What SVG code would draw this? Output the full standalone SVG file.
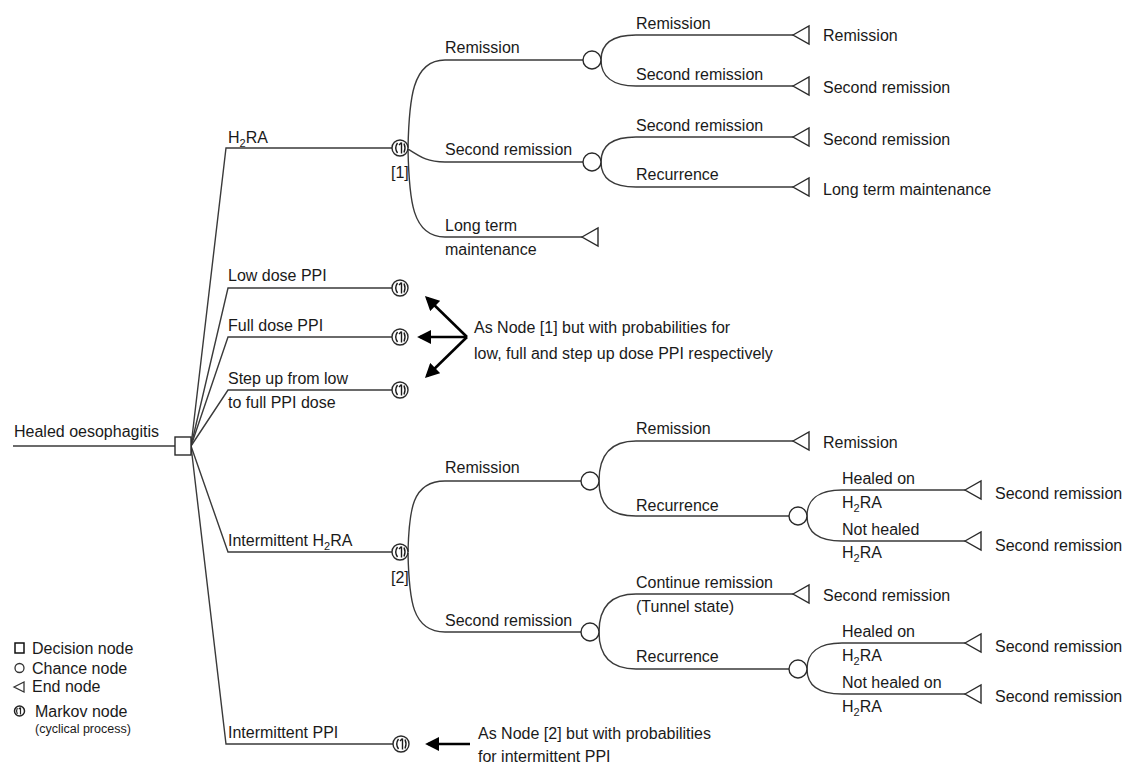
<svg xmlns="http://www.w3.org/2000/svg" width="1124" height="764" viewBox="0 0 1124 764">
  <defs>
    <style>
      text { font-family: "Liberation Sans", Arial, sans-serif; font-size: 16px; fill: #1a1a1a; }
      .sub { font-size: 11px; }
      .small { font-size: 12.5px; }
      .br { fill: none; stroke: #3a3a3a; stroke-width: 1.4; }
      .node { fill: #fff; stroke: #2a2a2a; stroke-width: 1.4; }
      .glyph { fill: none; stroke: #1a1a1a; stroke-width: 1.4; }
      .ptr { stroke: #000; stroke-width: 2.6; fill: none; marker-end: url(#head); }
    </style>
    <marker id="head" viewBox="0 0 10 10" refX="8" refY="5" markerWidth="5.5" markerHeight="5.5" orient="auto" markerUnits="strokeWidth">
      <path d="M0,0 L10,5 L0,10 z" fill="#000"/>
    </marker>
    <!-- Markov node: circle with a cycle mark inside -->
    <g id="markov">
      <circle r="8" class="node"/>
      <path class="glyph" d="M-2.5,-5 Q-6,0 -2.5,5 M1.5,-5.5 V5.5 M1.5,-5.5 L-1,-3 M4,-4.5 Q6,0 4,4.5"/>
    </g>
    <circle id="chance" r="9" class="node"/>
    <path id="end" class="node" d="M0,0 L16,-9 L16,9 Z"/>
  </defs>

  <rect width="1124" height="764" fill="#fff"/>

  <!-- connectors -->
  <g id="connectors">
    <!-- root and decision fan -->
    <path class="br" d="M13,446 H175"/>
    <path class="br" d="M191,446 L226,148 H392"/>
    <path class="br" d="M191,446 L228,288 H392"/>
    <path class="br" d="M191,446 L228,337 H392"/>
    <path class="br" d="M191,446 L228,390 H392"/>
    <path class="br" d="M191,446 L228,552 H392"/>
    <path class="br" d="M191,446 L226,744 H393"/>

    <!-- H2RA subtree -->
    <path class="br" d="M408,148 C409,100 412,60 445,60 H583"/>
    <path class="br" d="M408,149 C422,158 428,162 445,162 H583"/>
    <path class="br" d="M408,149 C409,200 412,237 445,237 H582"/>
    <path class="br" d="M601,60 C601,44 612,35 636,35 H793"/>
    <path class="br" d="M601,60 C601,76 612,86 636,86 H793"/>
    <path class="br" d="M601,162 C601,146 612,137 636,137 H793"/>
    <path class="br" d="M601,162 C601,178 612,187 636,187 H793"/>

    <!-- Intermittent H2RA subtree -->
    <path class="br" d="M408,552 C409,510 412,481 445,481 H581"/>
    <path class="br" d="M408,553 C409,600 412,632 445,632 H581"/>
    <path class="br" d="M599,481 C599,455 610,441 636,441 H793"/>
    <path class="br" d="M599,481 C599,505 610,516 636,516 H789"/>
    <path class="br" d="M807,516 C807,500 818,490 842,490 H965"/>
    <path class="br" d="M807,516 C807,532 818,541 842,541 H965"/>
    <path class="br" d="M599,632 C599,608 610,594 636,594 H793"/>
    <path class="br" d="M599,632 C599,656 610,669 636,669 H789"/>
    <path class="br" d="M807,669 C807,653 818,643 842,643 H965"/>
    <path class="br" d="M807,669 C807,685 818,694 842,694 H965"/>

    <!-- reference pointers -->
    <path class="ptr" d="M467,337 L427,298"/>
    <path class="ptr" d="M467,337 L420,337"/>
    <path class="ptr" d="M467,337 L427,376"/>
    <path class="ptr" d="M470,744 L428,744"/>
  </g>

  <!-- root -->
  <g id="root">
    <text x="14" y="437">Healed oesophagitis</text>
    <rect x="175" y="437" width="16" height="18" class="node"/>
  </g>

  <!-- strategy branches -->
  <g id="h2ra">
    <text x="228" y="143">H<tspan class="sub" dy="4">2</tspan><tspan dy="-4">RA</tspan></text>
    <use href="#markov" x="400" y="148"/>
    <text x="391" y="178">[1]</text>
  </g>
  <g id="low-dose-ppi">
    <text x="228" y="281">Low dose PPI</text>
    <use href="#markov" x="400" y="288"/>
  </g>
  <g id="full-dose-ppi">
    <text x="228" y="331">Full dose PPI</text>
    <use href="#markov" x="400" y="337"/>
  </g>
  <g id="step-up-ppi">
    <text x="228" y="384">Step up from low</text>
    <text x="228" y="408">to full PPI dose</text>
    <use href="#markov" x="400" y="390"/>
  </g>
  <g id="note-1">
    <text x="474" y="333">As Node [1] but with probabilities for</text>
    <text x="474" y="359">low, full and step up dose PPI respectively</text>
  </g>
  <g id="intermittent-h2ra">
    <text x="228" y="546">Intermittent H<tspan class="sub" dy="4">2</tspan><tspan dy="-4">RA</tspan></text>
    <use href="#markov" x="400" y="552"/>
    <text x="391" y="583">[2]</text>
  </g>
  <g id="intermittent-ppi">
    <text x="228" y="738">Intermittent PPI</text>
    <use href="#markov" x="401" y="744"/>
  </g>
  <g id="note-2">
    <text x="478" y="739">As Node [2] but with probabilities</text>
    <text x="478" y="762">for intermittent PPI</text>
  </g>

  <!-- H2RA subtree nodes -->
  <g id="h2ra-remission">
    <text x="445" y="53">Remission</text>
    <use href="#chance" x="592" y="60"/>
  </g>
  <g id="h2ra-second">
    <text x="445" y="155">Second remission</text>
    <use href="#chance" x="592" y="162"/>
  </g>
  <g id="h2ra-ltm">
    <text x="445" y="231">Long term</text>
    <text x="445" y="255">maintenance</text>
    <use href="#end" x="582" y="237"/>
  </g>
  <g id="h2ra-r-r">
    <text x="636" y="29">Remission</text>
    <use href="#end" x="793" y="35"/>
    <text x="823" y="41">Remission</text>
  </g>
  <g id="h2ra-r-s">
    <text x="636" y="80">Second remission</text>
    <use href="#end" x="793" y="86"/>
    <text x="823" y="93">Second remission</text>
  </g>
  <g id="h2ra-s-s">
    <text x="636" y="131">Second remission</text>
    <use href="#end" x="793" y="137"/>
    <text x="823" y="145">Second remission</text>
  </g>
  <g id="h2ra-s-rec">
    <text x="636" y="180">Recurrence</text>
    <use href="#end" x="793" y="187"/>
    <text x="823" y="195">Long term maintenance</text>
  </g>

  <!-- Intermittent H2RA subtree nodes -->
  <g id="ih-remission">
    <text x="445" y="473">Remission</text>
    <use href="#chance" x="590" y="481"/>
  </g>
  <g id="ih-second">
    <text x="445" y="626">Second remission</text>
    <use href="#chance" x="590" y="632"/>
  </g>
  <g id="ih-r-r">
    <text x="636" y="434">Remission</text>
    <use href="#end" x="793" y="441"/>
    <text x="823" y="448">Remission</text>
  </g>
  <g id="ih-r-rec">
    <text x="636" y="511">Recurrence</text>
    <use href="#chance" x="798" y="516"/>
  </g>
  <g id="ih-r-rec-healed">
    <text x="842" y="484">Healed on</text>
    <text x="842" y="508">H<tspan class="sub" dy="4">2</tspan><tspan dy="-4">RA</tspan></text>
    <use href="#end" x="965" y="490"/>
    <text x="995" y="499">Second remission</text>
  </g>
  <g id="ih-r-rec-not">
    <text x="842" y="535">Not healed</text>
    <text x="842" y="558">H<tspan class="sub" dy="4">2</tspan><tspan dy="-4">RA</tspan></text>
    <use href="#end" x="965" y="541"/>
    <text x="995" y="551">Second remission</text>
  </g>
  <g id="ih-s-cont">
    <text x="636" y="588">Continue remission</text>
    <text x="636" y="612">(Tunnel state)</text>
    <use href="#end" x="793" y="594"/>
    <text x="823" y="601">Second remission</text>
  </g>
  <g id="ih-s-rec">
    <text x="636" y="662">Recurrence</text>
    <use href="#chance" x="798" y="669"/>
  </g>
  <g id="ih-s-rec-healed">
    <text x="842" y="637">Healed on</text>
    <text x="842" y="661">H<tspan class="sub" dy="4">2</tspan><tspan dy="-4">RA</tspan></text>
    <use href="#end" x="965" y="643"/>
    <text x="995" y="652">Second remission</text>
  </g>
  <g id="ih-s-rec-not">
    <text x="842" y="688">Not healed on</text>
    <text x="842" y="712">H<tspan class="sub" dy="4">2</tspan><tspan dy="-4">RA</tspan></text>
    <use href="#end" x="965" y="694"/>
    <text x="995" y="702">Second remission</text>
  </g>

  <!-- legend -->
  <g id="legend">
    <rect x="15" y="643" width="9" height="10" fill="#fff" stroke="#111" stroke-width="1.5"/>
    <text x="32" y="654">Decision node</text>
    <circle cx="19.5" cy="668" r="4.5" fill="#fff" stroke="#333" stroke-width="1.3"/>
    <text x="32" y="674">Chance node</text>
    <path d="M14,687 L24,682 L24,692 Z" fill="#fff" stroke="#333" stroke-width="1.3"/>
    <text x="32" y="692">End node</text>
    <circle cx="19.5" cy="711" r="5" fill="#fff" stroke="#222" stroke-width="1.5"/>
    <path d="M17.3,708 Q15.8,711 17.3,714 M20.5,707.5 V714.5 M20.5,707.5 L18.8,709.2" fill="none" stroke="#222" stroke-width="1.2"/>
    <text x="35" y="717">Markov node</text>
    <text class="small" x="35" y="733">(cyclical process)</text>
  </g>
</svg>
